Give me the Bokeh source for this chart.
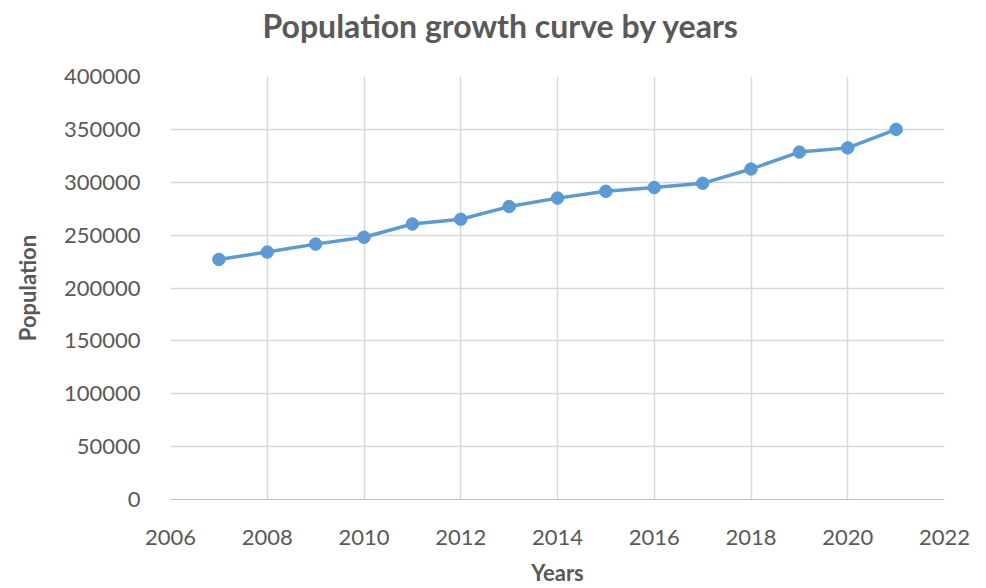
from bokeh.plotting import figure
from bokeh.embed import file_html
from bokeh.resources import INLINE
from bokeh.models import FixedTicker, Title, Range1d

years = [2007, 2008, 2009, 2010, 2011, 2012, 2013, 2014, 2015, 2016, 2017, 2018, 2019, 2020, 2021]
population = [227000, 234000, 241500, 248000, 260500, 265000, 277000, 285000, 291500, 295000, 299000, 312500, 328500, 332500, 350000]
x_ticks = [2006, 2008, 2010, 2012, 2014, 2016, 2018, 2020, 2022]
y_ticks = [0, 50000, 100000, 150000, 200000, 250000, 300000, 350000, 400000]

TEXT = "#595959"
FONT = "Lato"

p = figure(width=986, height=588, output_backend="svg", toolbar_location=None,
           x_range=Range1d(2006, 2022), y_range=Range1d(0, 400000),
           min_border_left=170, min_border_right=42, min_border_top=76, min_border_bottom=89)
p.title = None
# spacer between frame and title
p.add_layout(Title(text=" ", text_font_size="10px", standoff=12), "above")
p.add_layout(Title(text="Population growth curve by years", align="left",
                   vertical_align="top",
                   text_font=FONT, text_font_size="32px", text_color=TEXT,
                   text_font_style="bold", standoff=10, offset=92), "above")
p.outline_line_color = None
p.background_fill_color = "white"
p.border_fill_color = "white"

p.xaxis.ticker = FixedTicker(ticks=x_ticks)
p.yaxis.ticker = FixedTicker(ticks=y_ticks)
for ax in (p.xaxis[0], p.yaxis[0]):
    ax.major_tick_line_color = None
    ax.minor_tick_line_color = None
    ax.major_label_text_font = FONT
    ax.major_label_text_font_size = "22px"
    ax.major_label_text_color = TEXT
    ax.axis_label_text_font = FONT
    ax.axis_label_text_font_size = "22px"
    ax.axis_label_text_font_style = "bold"
    ax.axis_label_text_color = TEXT
p.xaxis.axis_line_color = "#bfbfbf"
p.yaxis.axis_line_color = None
p.xaxis.axis_label = "Years"
p.yaxis.axis_label = "Population"
p.xaxis.major_label_standoff = 24
p.yaxis.major_label_standoff = 24
p.xaxis.axis_label_standoff = 11
p.yaxis.axis_label_standoff = 20
p.yaxis.formatter.use_scientific = False

p.xgrid.grid_line_color = "#d9d9d9"
p.ygrid.grid_line_color = "#d9d9d9"
p.xgrid.grid_line_width = 1.5
p.ygrid.grid_line_width = 1.5

p.line(years, population, line_color="#5b9bd5", line_width=3.5)
p.scatter(years, population, size=12.5, fill_color="#5b9bd5", line_color="#5b9bd5")

open("out.html", "w").write(file_html(p, INLINE))
